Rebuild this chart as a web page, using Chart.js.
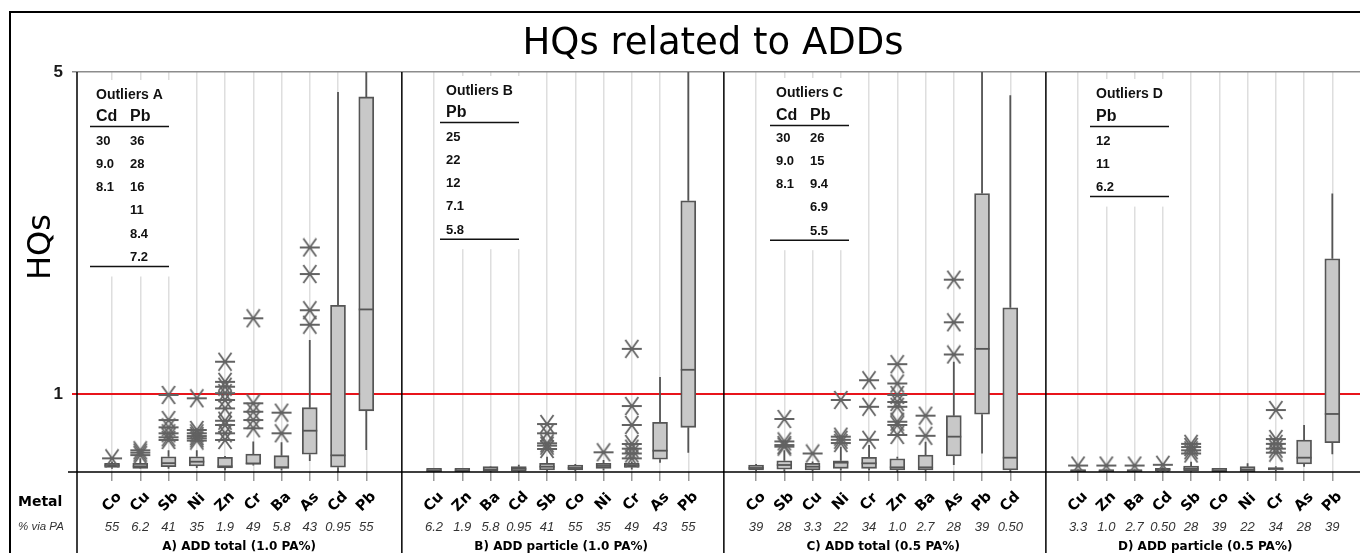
<!DOCTYPE html>
<html>
<head>
<meta charset="utf-8">
<script src="https://cdn.jsdelivr.net/npm/chart.js@4.4.1/dist/chart.umd.min.js"></script>
<style>
  html, body { margin: 0; padding: 0; background: #fff; }
  #wrap { width: 1360px; height: 553px; }
</style>
</head>
<body>
<div id="wrap"><canvas id="hqChart" width="1360" height="553"></canvas></div>
<script>
// categories (metal order differs per panel)
const metals = [
  ["Co", "Cu", "Sb", "Ni", "Zn", "Cr", "Ba", "As", "Cd", "Pb"],
  ["Cu", "Zn", "Ba", "Cd", "Sb", "Co", "Ni", "Cr", "As", "Pb"],
  ["Co", "Sb", "Cu", "Ni", "Cr", "Zn", "Ba", "As", "Pb", "Cd"],
  ["Cu", "Zn", "Ba", "Cd", "Sb", "Co", "Ni", "Cr", "As", "Pb"]
];
const viaPA = [
  ["55", "6.2", "41", "35", "1.9", "49", "5.8", "43", "0.95", "55"],
  ["6.2", "1.9", "5.8", "0.95", "41", "55", "35", "49", "43", "55"],
  ["39", "28", "3.3", "22", "34", "1.0", "2.7", "28", "39", "0.50"],
  ["3.3", "1.0", "2.7", "0.50", "28", "39", "22", "34", "28", "39"]
];
const panelCaptions = [
  "A) ADD total (1.0 PA%)",
  "B) ADD particle (1.0 PA%)",
  "C) ADD total (0.5 PA%)",
  "D) ADD particle (0.5 PA%)"
];

// box plot statistics (HQ values)
const whiskerLow = [
  [0.07, 0.07, 0.07, 0.08, 0.05, 0.11, 0.05, 0.167, 0.03, 0.303],
  [0.03, 0.03, 0.03, 0.03, 0.035, 0.04, 0.05, 0.06, 0.146, 0.27],
  [0.04, 0.04, 0.04, 0.05, 0.05, 0.03, 0.03, 0.117, 0.26, 0.03],
  [0.03, 0.03, 0.03, 0.03, 0.035, 0.03, 0.03, 0.04, 0.096, 0.25]
];
const boxLow = [
  [0.088, 0.076, 0.096, 0.105, 0.08, 0.126, 0.075, 0.25, 0.09, 0.79],
  [0.035, 0.035, 0.04, 0.04, 0.055, 0.055, 0.075, 0.088, 0.188, 0.585],
  [0.055, 0.064, 0.055, 0.076, 0.076, 0.055, 0.055, 0.229, 0.747, 0.055],
  [0.035, 0.035, 0.035, 0.04, 0.046, 0.035, 0.035, 0.055, 0.129, 0.394]
];
const median = [
  [0.113, 0.1, 0.14, 0.158, 0.1, 0.135, 0.09, 0.543, 0.237, 2.05],
  [0.05, 0.05, 0.06, 0.07, 0.096, 0.08, 0.105, 0.11, 0.295, 1.3],
  [0.08, 0.117, 0.096, 0.146, 0.138, 0.088, 0.088, 0.469, 1.56, 0.208],
  [0.045, 0.045, 0.045, 0.06, 0.07, 0.05, 0.06, 0.07, 0.208, 0.751]
];
const boxHigh = [
  [0.138, 0.138, 0.22, 0.22, 0.213, 0.254, 0.233, 0.829, 2.1, 4.69],
  [0.075, 0.075, 0.096, 0.096, 0.138, 0.117, 0.138, 0.138, 0.648, 3.4],
  [0.117, 0.17, 0.138, 0.17, 0.213, 0.195, 0.241, 0.73, 3.49, 2.07],
  [0.06, 0.06, 0.06, 0.075, 0.105, 0.075, 0.096, 0.084, 0.428, 2.68]
];
const whiskerHigh = [
  [0.16, 0.2, 0.3, 0.3, 0.23, 0.41, 0.4, 1.67, 4.75, 6.5],
  [0.08, 0.08, 0.1, 0.12, 0.22, 0.13, 0.18, 0.16, 1.21, 5.4],
  [0.13, 0.3, 0.16, 0.345, 0.365, 0.22, 0.406, 1.4, 5.3, 4.71],
  [0.07, 0.07, 0.07, 0.09, 0.158, 0.08, 0.138, 0.1, 0.614, 3.49]
];
const outliers = [
  [[0.2], [0.3, 0.27, 0.24], [0.987, 0.676, 0.585, 0.511, 0.461, 0.428],
   [0.946, 0.552, 0.511, 0.477, 0.449, 0.42],
   [1.4, 1.15, 1.09, 1.01, 0.925, 0.82, 0.667, 0.614, 0.511, 0.428],
   [1.94, 0.884, 0.779, 0.676, 0.573], [0.767, 0.511], [2.82, 2.49, 2.04, 1.86], [], []],
  [[], [], [], [], [0.626, 0.511, 0.387, 0.357, 0.316], [], [0.275],
   [1.56, 0.85, 0.614, 0.378, 0.32, 0.26, 0.2], [], []],
  [[], [0.689, 0.41, 0.365, 0.345], [0.26], [0.925, 0.469, 0.43, 0.39], [1.17, 0.84, 0.43],
   [1.37, 1.13, 0.987, 0.9, 0.84, 0.655, 0.614, 0.49], [0.73, 0.48], [2.42, 1.89, 1.49], [], []],
  [[0.11], [0.11], [0.11], [0.12], [0.38, 0.34, 0.3, 0.26], [], [], [0.8, 0.44, 0.38, 0.32, 0.27], [], []]
];

// off-scale outliers listed as text
const tableTitles = ["Outliers A", "Outliers B", "Outliers C", "Outliers D"];
const tableHeads = [["Cd", "Pb"], ["Pb"], ["Cd", "Pb"], ["Pb"]];
const tableValues = [
  [["30", "9.0", "8.1"], ["36", "28", "16", "11", "8.4", "7.2"]],
  [["25", "22", "12", "7.1", "5.8"]],
  [["30", "9.0", "8.1"], ["26", "15", "9.4", "6.9", "5.5"]],
  [["12", "11", "6.2"]]
];
const yTickValues = [1, 5];

// layout
const PANEL_STEP = 11.4;
const X_MIN = -1.24, X_MAX = 44.18;
const xPos = (p, i) => p * PANEL_STEP + i;
const tableX = [96, 446, 776, 1096];
const titleY = [95, 91, 93, 94];
const headY = [117, 113, 116, 117];
const rowY0 = [141, 137, 138, 141];
const ROW_STEP = 23.3;
const COL_GAP = 34;
const BOX_W = 15;

const starMark = (() => {
  const c = document.createElement("canvas");
  c.width = 22; c.height = 20;
  const g = c.getContext("2d");
  g.strokeStyle = "#626262";
  g.lineWidth = 1.8;
  g.beginPath();
  g.moveTo(1, 10); g.lineTo(21, 10);
  g.moveTo(4.5, 1); g.lineTo(17.5, 19);
  g.moveTo(17.5, 1); g.lineTo(4.5, 19);
  g.stroke();
  return c;
})();

const boxData = [], starData = [], gridVals = [];
metals.forEach((list, p) => list.forEach((m, i) => {
  const x = xPos(p, i);
  gridVals.push(x);
  boxData.push({ x: x, y: [boxLow[p][i], boxHigh[p][i]] });
  outliers[p][i].forEach(v => starData.push({ x: x, y: v }));
}));

function tableBottom(p) {
  const rows = Math.max(...tableValues[p].map(c => c.length));
  return rowY0[p] + (rows - 1) * ROW_STEP + 9;
}

const boxPlotPlugin = {
  id: "boxPlot",
  beforeDatasetsDraw(chart) {
    const { ctx, chartArea: a } = chart;
    const xs = chart.scales.x, ys = chart.scales.y;
    ctx.save();
    // white backing behind tables (breaks the grid lines)
    ctx.fillStyle = "#fff";
    tableTitles.forEach((t, p) => {
      const top = titleY[p] - 15;
      ctx.fillRect(tableX[p] - 10, top, 86, tableBottom(p) + 10 - top);
    });
    // whiskers
    ctx.beginPath();
    ctx.rect(a.left, a.top, a.right - a.left, a.bottom - a.top);
    ctx.clip();
    ctx.strokeStyle = "#555";
    ctx.lineWidth = 1.8;
    metals.forEach((list, p) => list.forEach((m, i) => {
      const px = xs.getPixelForValue(xPos(p, i));
      ctx.beginPath();
      ctx.moveTo(px, ys.getPixelForValue(whiskerLow[p][i]));
      ctx.lineTo(px, ys.getPixelForValue(boxLow[p][i]));
      ctx.moveTo(px, ys.getPixelForValue(boxHigh[p][i]));
      ctx.lineTo(px, ys.getPixelForValue(whiskerHigh[p][i]));
      ctx.stroke();
    }));
    ctx.restore();
  },
  afterDatasetDraw(chart, args) {
    if (args.meta.type !== "bar") return;
    const { ctx } = chart;
    const xs = chart.scales.x, ys = chart.scales.y;
    ctx.save();
    ctx.strokeStyle = "#555";
    ctx.lineWidth = 1.8;
    metals.forEach((list, p) => list.forEach((m, i) => {
      const px = xs.getPixelForValue(xPos(p, i));
      const py = ys.getPixelForValue(median[p][i]);
      ctx.beginPath();
      ctx.moveTo(px - BOX_W / 2, py);
      ctx.lineTo(px + BOX_W / 2, py);
      ctx.stroke();
    }));
    ctx.restore();
  },
  afterDraw(chart) {
    const { ctx, chartArea: a } = chart;
    const xs = chart.scales.x;
    ctx.save();
    // frame, axis and panel separators
    ctx.strokeStyle = "#000";
    ctx.lineWidth = 2;
    ctx.beginPath();
    ctx.moveTo(10, 553); ctx.lineTo(10, 12); ctx.lineTo(1360, 12);
    ctx.stroke();
    ctx.lineWidth = 1.5;
    ctx.beginPath();
    ctx.moveTo(68, a.bottom); ctx.lineTo(1360, a.bottom);
    const seps = [a.left].concat([1, 2, 3].map(p => xs.getPixelForValue(p * PANEL_STEP - 1.14)));
    seps.forEach(sx => { ctx.moveTo(sx, a.top); ctx.lineTo(sx, 553); });
    ctx.stroke();

    // titles
    ctx.fillStyle = "#000";
    ctx.textAlign = "center";
    ctx.textBaseline = "alphabetic";
    ctx.font = '37px "DejaVu Sans"';
    ctx.fillText("HQs related to ADDs", 713, 54);
    ctx.save();
    ctx.translate(50, 247);
    ctx.rotate(-Math.PI / 2);
    ctx.font = '32px "DejaVu Sans"';
    ctx.fillText("HQs", 0, 0);
    ctx.restore();

    // row labels
    ctx.textAlign = "left";
    ctx.textBaseline = "middle";
    ctx.font = 'bold 14px "DejaVu Sans"';
    ctx.fillText("Metal", 18, 502);
    ctx.fillStyle = "#333";
    ctx.font = 'italic 11.5px "Liberation Sans"';
    ctx.fillText("% via PA", 18, 527);

    // category labels, % via PA, captions
    metals.forEach((list, p) => {
      list.forEach((m, i) => {
        const px = xs.getPixelForValue(xPos(p, i));
        ctx.save();
        ctx.translate(px, 502);
        ctx.rotate(-Math.PI / 4);
        ctx.textAlign = "center";
        ctx.fillStyle = "#000";
        ctx.font = 'bold 14.5px "DejaVu Sans"';
        ctx.fillText(m, 0, 0);
        ctx.restore();
        ctx.textAlign = "center";
        ctx.fillStyle = "#333";
        ctx.font = 'italic 13px "Liberation Sans"';
        ctx.fillText(viaPA[p][i], px, 527);
      });
      const cx = (xs.getPixelForValue(xPos(p, 0)) + xs.getPixelForValue(xPos(p, list.length - 1))) / 2;
      ctx.fillStyle = "#000";
      ctx.font = 'bold 12px "DejaVu Sans"';
      ctx.fillText(panelCaptions[p], cx, 547);
    });

    // outlier tables
    ctx.textAlign = "left";
    ctx.fillStyle = "#111";
    ctx.strokeStyle = "#111";
    ctx.lineWidth = 1.5;
    tableTitles.forEach((title, p) => {
      const tx = tableX[p];
      ctx.font = 'bold 14px "Liberation Sans"';
      ctx.fillText(title, tx, titleY[p]);
      ctx.font = 'bold 16px "Liberation Sans"';
      tableHeads[p].forEach((h, c) => ctx.fillText(h, tx + c * COL_GAP, headY[p]));
      ctx.font = 'bold 13px "Liberation Sans"';
      tableValues[p].forEach((col, c) => col.forEach((v, r) => {
        ctx.fillText(v, tx + c * COL_GAP, rowY0[p] + r * ROW_STEP);
      }));
      const r1 = headY[p] + 9.5, r2 = tableBottom(p);
      ctx.beginPath();
      ctx.moveTo(tx - 6, r1); ctx.lineTo(tx + 73, r1);
      ctx.moveTo(tx - 6, r2); ctx.lineTo(tx + 73, r2);
      ctx.stroke();
    });
    ctx.restore();
  }
};

const ctx = document.getElementById("hqChart").getContext("2d");
new Chart(ctx, {
  type: "bar",
  data: {
    datasets: [
      {
        type: "scatter",
        data: starData,
        pointStyle: starMark,
        pointRadius: 10,
        order: 0
      },
      {
        type: "bar",
        data: boxData,
        backgroundColor: "#c8c8c8",
        borderColor: "#555",
        borderWidth: 1.8,
        borderSkipped: false,
        barThickness: BOX_W,
        order: 1
      }
    ]
  },
  options: {
    responsive: false,
    animation: false,
    events: [],
    layout: { autoPadding: false, padding: { top: 72, left: 0, right: 0, bottom: 0 } },
    plugins: {
      legend: { display: false },
      tooltip: { enabled: false },
      title: { display: false }
    },
    scales: {
      x: {
        type: "linear",
        min: X_MIN,
        max: X_MAX,
        bounds: "data",
        offset: false,
        afterBuildTicks: s => { s.ticks = gridVals.map(v => ({ value: v })); },
        afterFit: s => { s.height = 81; s.paddingLeft = 0; s.paddingRight = 0; },
        grid: { offset: false, color: "#dedede", lineWidth: 1.5, tickColor: "#9a9a9a", tickLength: 9 },
        border: { display: false },
        ticks: { display: false }
      },
      y: {
        type: "linear",
        min: 0.03,
        max: 5,
        bounds: "data",
        z: 1,
        afterBuildTicks: s => { s.ticks = yTickValues.map(v => ({ value: v })); },
        afterFit: s => { s.width = 77; },
        grid: {
          color: c => (c.tick && c.tick.value === 1 ? "#e8141b" : "#8c8c8c"),
          tickColor: c => (c.tick && c.tick.value === 1 ? "#e8141b" : "#8c8c8c"),
          lineWidth: c => (c.tick && c.tick.value === 1 ? 2 : 1.5),
          tickLength: 5
        },
        border: { display: false },
        ticks: {
          padding: 9,
          color: "#1a1a1a",
          font: { family: "Liberation Sans", weight: "bold", size: 17 },
          callback: v => String(v)
        }
      }
    }
  },
  plugins: [boxPlotPlugin]
});
</script>
</body>
</html>
